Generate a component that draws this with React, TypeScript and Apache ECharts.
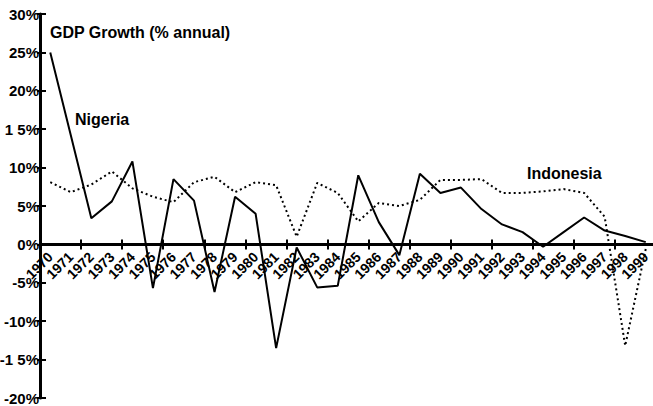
import React, { useEffect, useRef } from "react";
import * as echarts from "echarts";

const years = [
  "1970", "1971", "1972", "1973", "1974", "1975", "1976", "1977", "1978", "1979",
  "1980", "1981", "1982", "1983", "1984", "1985", "1986", "1987", "1988", "1989",
  "1990", "1991", "1992", "1993", "1994", "1995", "1996", "1997", "1998", "1999",
];

const nigeria = [
  25, 14.2, 3.4, 5.6, 10.8, -5.7, 8.5, 5.7, -6.2, 6.2,
  4.0, -13.5, -0.4, -5.6, -5.4, 9.0, 2.9, -1.4, 9.2, 6.7,
  7.4, 4.6, 2.6, 1.6, -0.3, 1.6, 3.5, 1.8, 1.1, 0.3,
];

const indonesia = [
  8.1, 6.8, 7.8, 9.5, 7.3, 6.2, 5.5, 8.1, 8.8, 6.8,
  8.1, 7.7, 1.0, 8.0, 6.7, 3.0, 5.4, 5.0, 5.8, 8.4,
  8.4, 8.5, 6.7, 6.7, 6.9, 7.2, 6.7, 3.6, -13.2, -0.6,
];

const yTickValues = [-20, -15, -10, -5, 0, 5, 10, 15, 20, 25, 30];
const yTickLabels = ["-20%", "-1 5%", "-10%", "-5%", "0%", "5%", "10%", "1 5%", "20%", "25%", "30%"];

const titleText = "GDP Growth (% annual)";
const seriesNames = ["Nigeria", "Indonesia"];

const FONT = "'Liberation Sans', Arial, sans-serif";

const Y_MIN = -20;
const Y_MAX = 30;

export default function App() {
  const ref = useRef<HTMLDivElement>(null);
  useEffect(() => {
    if (!ref.current) return;
    const chart = echarts.init(ref.current, null, { renderer: "svg" });
    const H = 406;
    const top = 14;
    const bottom = 8;
    const plotH = H - top - bottom;
    const zeroY = top + (Y_MAX / (Y_MAX - Y_MIN)) * plotH;
    const yCommon = {
      type: "value" as const,
      min: Y_MIN,
      max: Y_MAX,
      interval: 5,
      splitLine: { show: false },
      gridIndex: 0,
    };
    chart.setOption({
      animation: false,
      backgroundColor: "#ffffff",
      grid: [
        { left: 40, right: -3, top, bottom, containLabel: false, outerBoundsMode: "none" },
        { left: 40, right: -3, top, bottom: H - zeroY, containLabel: false, outerBoundsMode: "none" },
      ],
      xAxis: [
        {
          type: "category",
          data: years,
          gridIndex: 0,
          boundaryGap: true,
          axisLine: { onZero: true, lineStyle: { color: "#000", width: 3 } },
          axisTick: { show: true, length: 5, lineStyle: { color: "#000", width: 2 } },
          axisLabel: { show: false },
        },
        {
          type: "category",
          data: years,
          gridIndex: 0,
          boundaryGap: true,
          position: "bottom",
          axisLine: { show: false, onZero: true },
          axisTick: { show: true, inside: true, length: 5, lineStyle: { color: "#000", width: 2 } },
          axisLabel: { show: false },
        },
        {
          type: "category",
          data: years,
          gridIndex: 1,
          boundaryGap: true,
          position: "bottom",
          axisLine: { show: false },
          axisTick: { show: false },
          axisLabel: {
            rotate: 45,
            margin: 10,
            interval: 0,
            color: "#000",
            fontFamily: FONT,
            fontWeight: "bold",
            fontSize: 14,
          },
        },
      ],
      yAxis: [
        {
          ...yCommon,
          axisLine: { show: true, lineStyle: { color: "#000", width: 3 } },
          axisTick: { show: true, length: 3, lineStyle: { color: "#000", width: 2 } },
          axisLabel: {
            margin: 1,
            color: "#000",
            fontFamily: FONT,
            fontWeight: "bold",
            fontSize: 15,
            formatter: (v: number) => {
              const i = yTickValues.indexOf(Math.round(v));
              return i >= 0 ? yTickLabels[i] : "";
            },
          },
        },
        {
          ...yCommon,
          position: "left",
          axisLine: { show: false },
          axisTick: { show: true, inside: true, length: 6, lineStyle: { color: "#000", width: 2 } },
          axisLabel: { show: false },
        },
        {
          type: "value",
          gridIndex: 1,
          min: 0,
          max: 1,
          show: false,
        },
      ],
      series: [
        {
          name: seriesNames[0],
          type: "line",
          xAxisIndex: 0,
          yAxisIndex: 0,
          data: nigeria,
          symbol: "none",
          lineStyle: { color: "#000", width: 2 },
          z: 3,
        },
        {
          name: seriesNames[1],
          type: "line",
          xAxisIndex: 0,
          yAxisIndex: 0,
          data: indonesia,
          symbol: "none",
          lineStyle: { color: "#000", width: 2, type: [2, 3] },
          z: 2,
        },
      ],
      graphic: [
        {
          type: "text",
          left: 50,
          top: 24,
          style: { text: titleText, fill: "#000", font: `bold 16px ${FONT}` },
        },
        {
          type: "text",
          left: 75,
          top: 111,
          style: { text: seriesNames[0], fill: "#000", font: `bold 16px ${FONT}` },
        },
        {
          type: "text",
          left: 527,
          top: 165,
          style: { text: seriesNames[1], fill: "#000", font: `bold 16px ${FONT}` },
        },
      ],
    });
    return () => chart.dispose();
  }, []);
  return <div ref={ref} style={{ width: 653, height: 406, position: "absolute", left: 0, top: 0 }} />;
}
